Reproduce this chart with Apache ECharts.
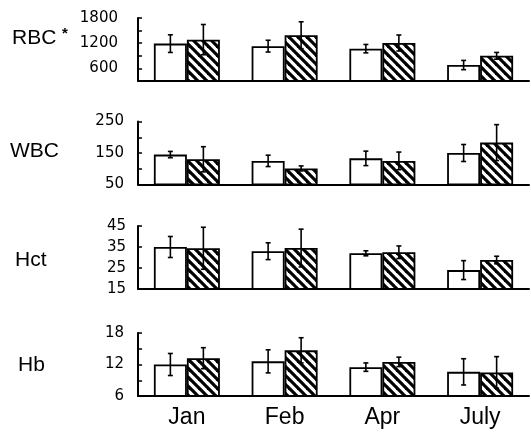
<!DOCTYPE html>
<html>
<head>
<meta charset="utf-8">
<script src="https://cdn.jsdelivr.net/npm/echarts@6/dist/echarts.min.js"></script>
<style>
html,body{margin:0;padding:0;background:#fff;}
#chart{width:531px;height:437px;}
</style>
</head>
<body>
<div id="chart"></div>
<script>
// ---- data ----
const months = ['Jan', 'Feb', 'Apr', 'July'];

const rbcOpen = [1190, 1130, 1070, 680];
const rbcOpenErr = [210, 140, 100, 110];
const rbcHatch = [1285, 1390, 1205, 900];
const rbcHatchErr = [360, 320, 190, 80];

const wbcOpen = [145, 125, 133, 150];
const wbcOpenErr = [10, 18, 23, 27];
const wbcHatch = [130, 101, 125, 183];
const wbcHatchErr = [40, 8, 28, 57];

const hctOpen = [35, 33, 32, 24];
const hctOpenErr = [5, 4, 1.2, 4.5];
const hctHatch = [34.4, 34.5, 32.5, 28.8];
const hctHatchErr = [10, 9, 3, 1.8];

const hbOpen = [12, 12.6, 11.5, 10.6];
const hbOpenErr = [2.1, 2.2, 0.8, 2.5];
const hbHatch = [13.2, 14.7, 12.5, 10.5];
const hbHatchErr = [2, 2.4, 0.9, 3];

const rbcTickLabels = [600, 1200, 1800];
const wbcTickLabels = [50, 150, 250];
const hctTickLabels = [15, 25, 35, 45];
const hbTickLabels = [6, 12, 18];

// ---- panels ----
const panels = [
  {name: 'RBC', open: rbcOpen, openErr: rbcOpenErr, hatch: rbcHatch, hatchErr: rbcHatchErr,
   min: 300, max: 1800, interval: 300, labels: rbcTickLabels, top: 18, margin: 20},
  {name: 'WBC', open: wbcOpen, openErr: wbcOpenErr, hatch: wbcHatch, hatchErr: wbcHatchErr,
   min: 50, max: 250, interval: 50, labels: wbcTickLabels, top: 121.5, margin: 14},
  {name: 'Hct', open: hctOpen, openErr: hctOpenErr, hatch: hctHatch, hatchErr: hctHatchErr,
   min: 15, max: 45, interval: 10, labels: hctTickLabels, top: 226, margin: 12},
  {name: 'Hb', open: hbOpen, openErr: hbOpenErr, hatch: hbHatch, hatchErr: hbHatchErr,
   min: 6, max: 18, interval: 3, labels: hbTickLabels, top: 333, margin: 14}
];

// hatch pattern
const tile = document.createElement('canvas');
tile.width = 9; tile.height = 9;
const tctx = tile.getContext('2d');
tctx.fillStyle = '#fff';
tctx.fillRect(0, 0, 9, 9);
tctx.strokeStyle = '#000';
tctx.lineWidth = 3.2;
[-9, 0, 9].forEach(function (dx) {
  tctx.beginPath();
  tctx.moveTo(dx - 2, -2);
  tctx.lineTo(dx + 11, 11);
  tctx.stroke();
});
const hatchFill = {image: tile, repeat: 'repeat'};

const BAR_W = 33;

function errSeries(gi, means, errs, offset) {
  return {
    type: 'custom',
    xAxisIndex: gi, yAxisIndex: gi,
    z: 10,
    data: means.map(function (m, i) { return [i, m, errs[i]]; }),
    encode: {x: 0, y: 1},
    renderItem: function (params, api) {
      const i = api.value(0), m = api.value(1), e = api.value(2);
      const top = api.coord([i, m + e]);
      const bot = api.coord([i, m - e]);
      const x = top[0] + offset;
      const hw = 2.5;
      const st = {stroke: '#000', lineWidth: 1.6};
      return {type: 'group', children: [
        {type: 'line', shape: {x1: x, y1: top[1], x2: x, y2: bot[1]}, style: st},
        {type: 'line', shape: {x1: x - hw, y1: top[1], x2: x + hw, y2: top[1]}, style: st},
        {type: 'line', shape: {x1: x - hw, y1: bot[1], x2: x + hw, y2: bot[1]}, style: st}
      ]};
    }
  };
}

const grids = [], xAxes = [], yAxes = [], series = [];
panels.forEach(function (p, gi) {
  grids.push({left: 138, right: 2, top: p.top, height: 63});
  xAxes.push({
    type: 'category', gridIndex: gi, data: months,
    axisLine: {lineStyle: {color: '#000', width: 2}},
    axisTick: {inside: true, length: 6, lineStyle: {color: '#000', width: 1.5}},
    axisLabel: {show: gi === panels.length - 1, margin: 10, color: '#000',
      fontFamily: 'Liberation Sans', fontSize: 23}
  });
  const labs = p.labels;
  yAxes.push({
    type: 'value', gridIndex: gi, min: p.min, max: p.max, interval: p.interval,
    axisLine: {show: true, lineStyle: {color: '#000', width: 2}},
    axisTick: {show: true, inside: true, length: 4, lineStyle: {color: '#000', width: 1.5}},
    splitLine: {show: false},
    axisLabel: {
      margin: p.margin, color: '#000', fontFamily: 'DejaVu Sans', fontSize: 15,
      formatter: function (v) { return labs.indexOf(v) >= 0 ? String(v) : ''; }
    }
  });
  series.push({
    type: 'bar', xAxisIndex: gi, yAxisIndex: gi, data: p.open,
    barWidth: BAR_W, barGap: '0%',
    itemStyle: {color: '#fff', borderColor: '#000', borderWidth: 1.8},
    silent: true
  });
  series.push({
    type: 'bar', xAxisIndex: gi, yAxisIndex: gi, data: p.hatch,
    barWidth: BAR_W, barGap: '0%',
    itemStyle: {color: hatchFill, borderColor: '#000', borderWidth: 1.8},
    silent: true
  });
  series.push(errSeries(gi, p.open, p.openErr, -BAR_W / 2));
  series.push(errSeries(gi, p.hatch, p.hatchErr, BAR_W / 2));
});

const labelFont = '21px "Liberation Sans"';
const graphic = [
  {type: 'text', x: 12, y: 38, style: {text: 'RBC', font: labelFont, fill: '#000', verticalAlign: 'middle'}},
  {type: 'text', x: 62, y: 34, style: {text: '*', font: 'bold 15px "Liberation Sans"', fill: '#000', verticalAlign: 'middle'}},
  {type: 'text', x: 10, y: 151, style: {text: 'WBC', font: labelFont, fill: '#000', verticalAlign: 'middle'}},
  {type: 'text', x: 15, y: 260, style: {text: 'Hct', font: labelFont, fill: '#000', verticalAlign: 'middle'}},
  {type: 'text', x: 18, y: 365, style: {text: 'Hb', font: labelFont, fill: '#000', verticalAlign: 'middle'}}
];

const chart = echarts.init(document.getElementById('chart'), null, {renderer: 'canvas'});
chart.setOption({
  animation: false,
  backgroundColor: '#fff',
  grid: grids,
  xAxis: xAxes,
  yAxis: yAxes,
  series: series,
  graphic: graphic
});
</script>
</body>
</html>
